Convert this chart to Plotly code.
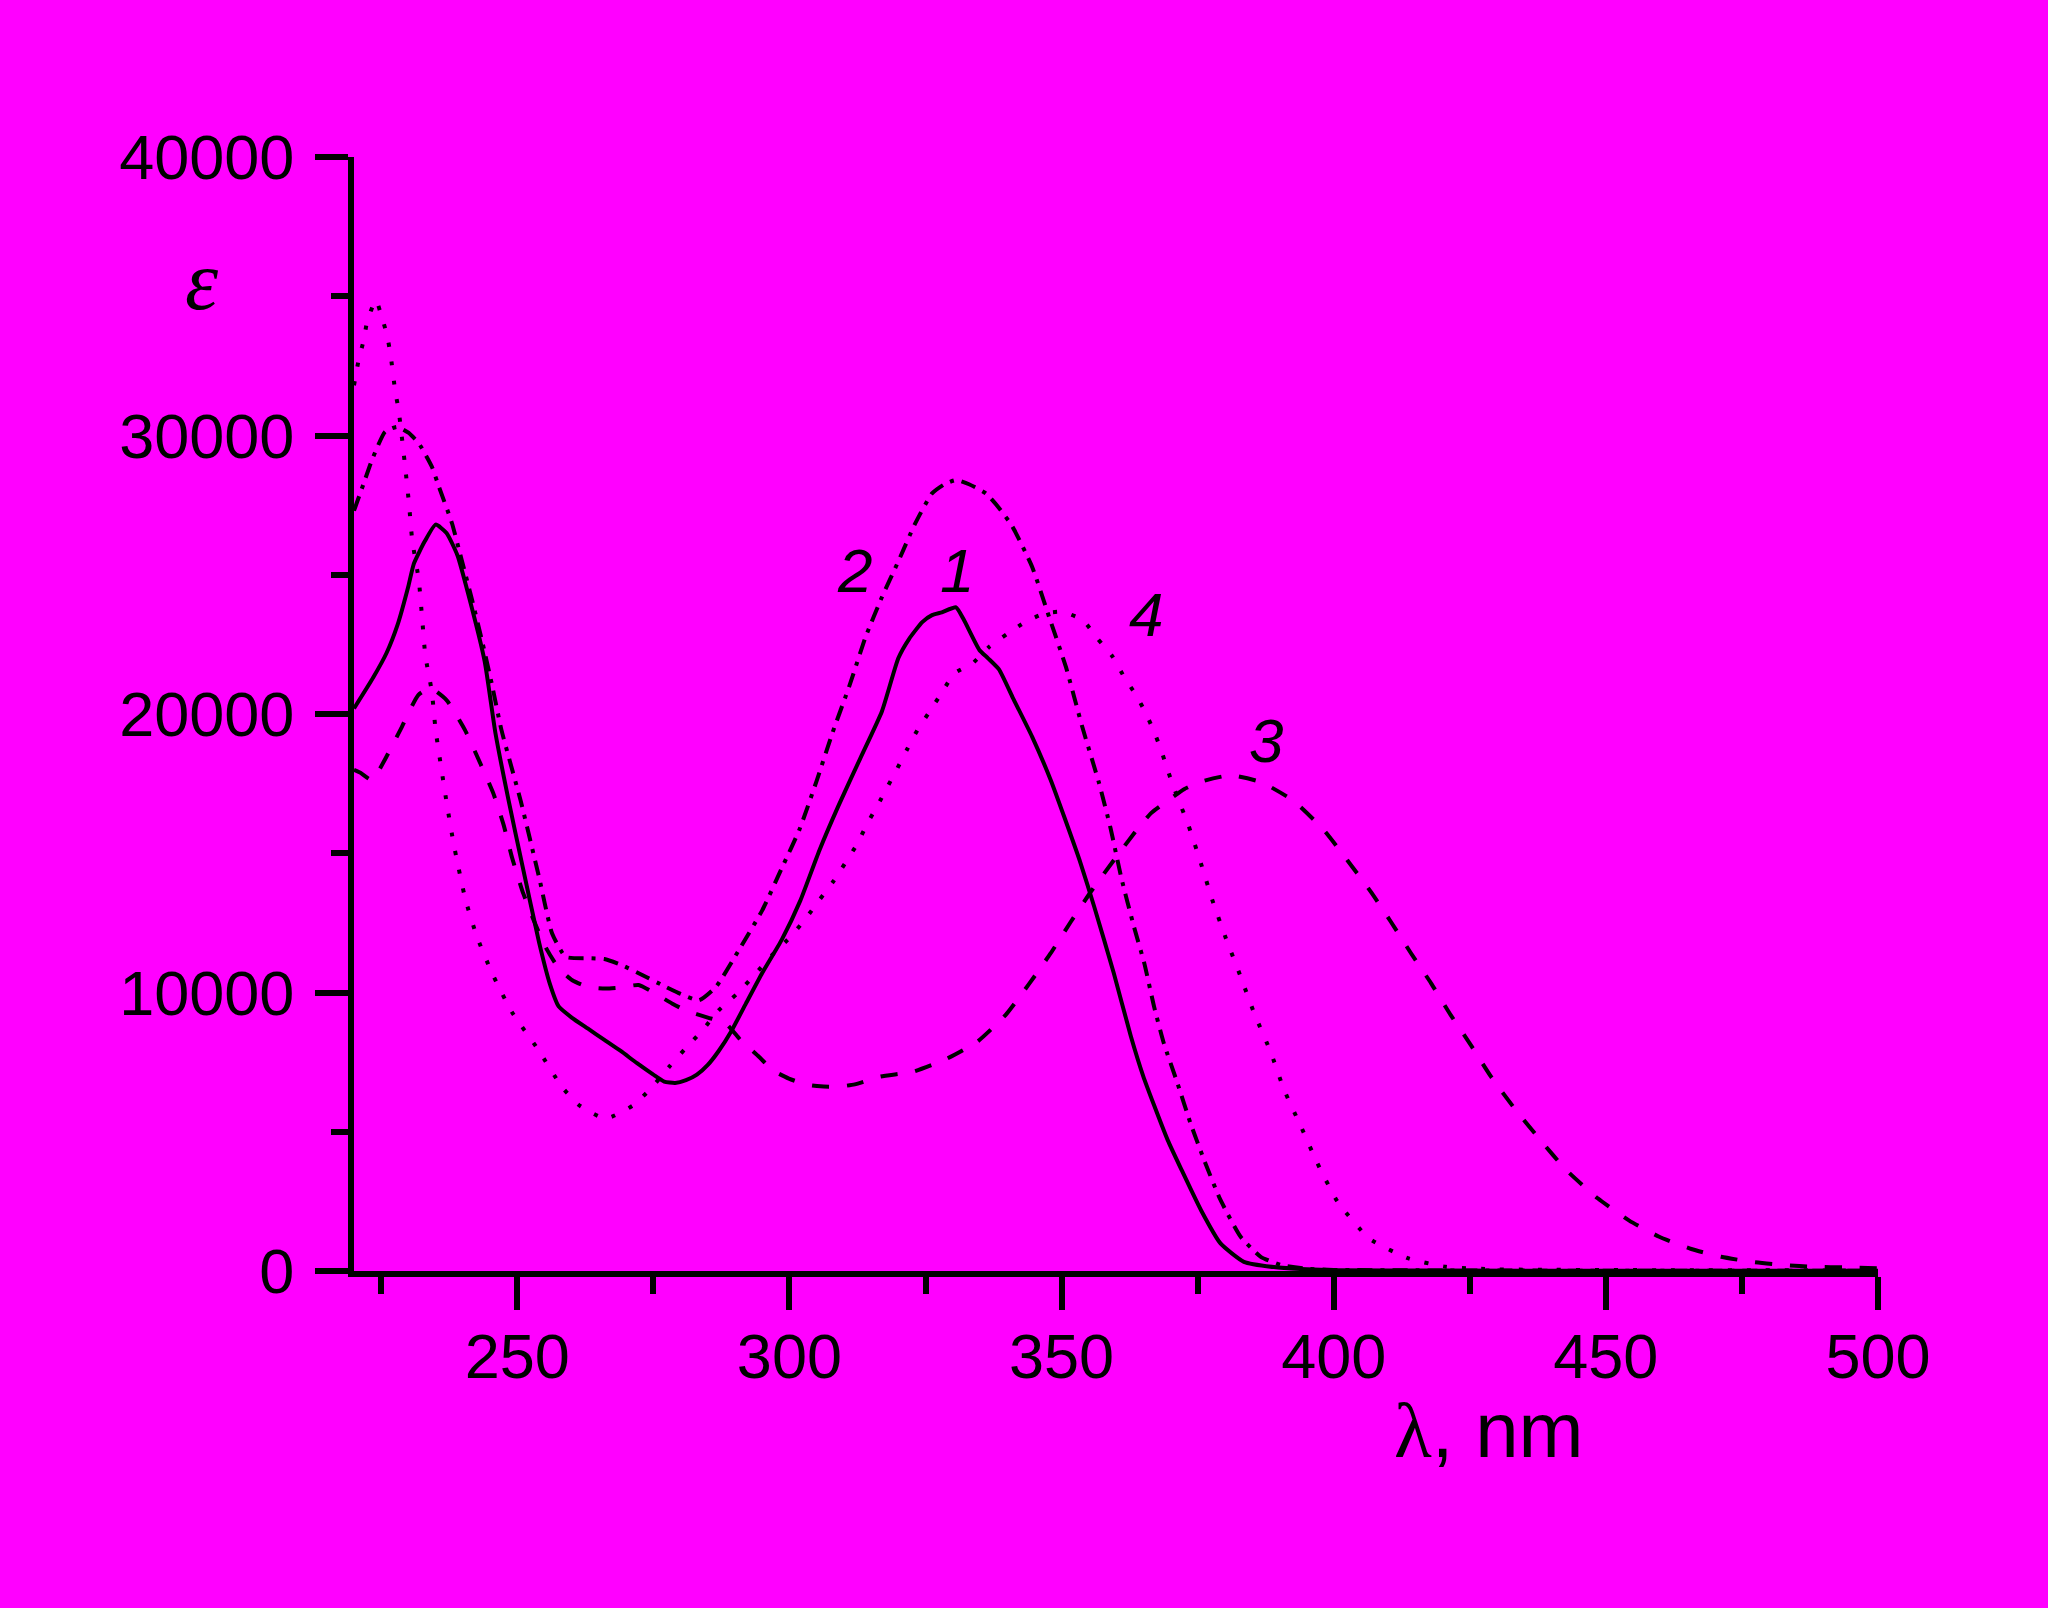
import plotly.graph_objects as go

# Curve 1 (solid)
wl_1 = [220, 223.5, 226, 228, 230, 231, 233, 235, 237, 239, 241, 244, 246, 248.4, 251, 254, 256,
        257.6, 260, 263, 266, 269, 272, 275, 277, 279, 281, 283, 285, 287, 289.4, 292, 295, 298.6,
        302, 305.5, 309, 313, 317, 320, 322, 324.4, 326.2, 328, 330.6, 332, 334.9, 336.5, 338.5, 341,
        344.6, 348, 350.5, 353.5, 356, 359.6, 362.7, 365, 367, 369.5, 372, 375.6, 379.2, 383.5, 389,
        395, 400, 420, 450, 500]
eps_1 = [20200, 21300, 22200, 23200, 24600, 25400, 26200, 26800, 26500, 25700, 24300, 21900, 19300,
         16900, 14500, 11800, 10300, 9500, 9100, 8700, 8300, 7900, 7460, 7050, 6800, 6750, 6850,
         7050, 7400, 7900, 8640, 9600, 10700, 11900, 13300, 15100, 16700, 18400, 20100, 22000, 22700,
         23300, 23550, 23650, 23830, 23400, 22300, 22000, 21600, 20600, 19180, 17630, 16300, 14640,
         13080, 10690, 8450, 7000, 5950, 4700, 3650, 2190, 990, 330, 140, 60, 30, 15, 10, 5]

# Curve 2 (dash-dot)
wl_2 = [220, 221.8, 223.3, 225.7, 227.9, 230, 231.9, 234.3, 235.6, 238, 239.8, 241.7, 243.5, 245.3,
        247.1, 250.6, 254, 256.4, 258.9, 263, 266, 269, 272.3, 277.3, 280, 283.4, 286.5, 290.7, 295,
        298.7, 301.8, 305, 307.9, 311, 314, 317, 320.1, 323, 326.2, 328.5, 330.6, 333, 336.1, 338.5,
        341, 344.6, 347.7, 350.8, 353.8, 356.9, 359, 361, 363.3, 365.2, 367, 368.8, 371.3, 373.7,
        376.2, 379.2, 382.9, 386.6, 390.3, 395, 400, 420, 450, 500]
eps_2 = [27300, 28290, 29120, 30130, 30310, 30100, 29720, 28880, 28160, 26850, 25520, 24090, 22650,
         21100, 19420, 16900, 14140, 12120, 11280, 11230, 11200, 11000, 10690, 10200, 9950, 9720,
         10200, 11520, 12950, 14510, 15830, 17600, 19320, 21000, 22770, 24200, 25520, 26800, 27920,
         28250, 28400, 28250, 27920, 27400, 26720, 25280, 23490, 21690, 19540, 17510, 15900, 14100,
         12360, 11050, 9490, 8170, 6740, 5300, 3980, 2550, 1230, 510, 215, 80, 40, 20, 10, 5]

# Curve 3 (dashed)
wl_3 = [220, 221.1, 223.3, 226.3, 228.8, 231.8, 234, 237, 240.4, 243.2, 245.6, 247.5, 249, 250.9, 253,
        255.2, 257.5, 260.1, 263, 266.2, 269, 272.3, 275, 278.5, 280.9, 285, 288.3, 291, 294.4, 297,
        299.9, 303, 305.7, 309, 312, 316.7, 322.8, 328.7, 334.5, 339.7, 344, 348, 351.7, 355.6, 359.6,
        363.9, 366.5, 369.7, 372.5, 375.6, 381, 386.7, 392.7, 398.2, 402.5, 406.8, 410.5, 414.2,
        417.9, 421.5, 425.2, 428.9, 433.2, 437.8, 442.7, 448.5, 454.3, 459.8, 465.7, 471.2, 477,
        482.7, 488.4, 494.2, 500]
eps_3 = [18000, 17900, 17630, 18590, 19540, 20680, 20930, 20500, 19420, 18230, 17150, 16010, 14870,
         13670, 12600, 11630, 10900, 10440, 10200, 10140, 10180, 10270, 10000, 9600, 9360, 9100, 8890,
         8300, 7690, 7200, 6910, 6700, 6630, 6620, 6700, 6980, 7160, 7600, 8230, 9190, 10300, 11410,
         12540, 13680, 14750, 15860, 16450, 16910, 17300, 17570, 17800, 17550, 16870, 15830, 14750,
         13620, 12540, 11410, 10330, 9190, 8110, 6980, 5840, 4740, 3630, 2610, 1810, 1230, 790, 510,
         320, 215, 150, 130, 100]

# Curve 4 (dotted)
wl_4 = [220, 220.9, 221.8, 222.4, 224, 225.2, 226.1, 226.7, 227.6, 228.2, 229.4, 230.1, 230.7, 231.9,
        232.5, 233.1, 234.3, 235, 237.1, 238.3, 240.5, 242.6, 245.4, 249, 253.7, 258.2, 261.3, 266.2,
        271.4, 274.8, 277.9, 280.9, 284, 287, 290.4, 293.8, 296.8, 300.2, 303, 305.5, 308.2, 312.5,
        314.3, 316.2, 318, 319.8, 321.7, 323.5, 325.7, 328.1, 330.3, 333.6, 336.7, 340.1, 343.4,
        346.8, 350.2, 353.9, 356.6, 359.4, 361.5, 363.7, 365.5, 367, 368.3, 369.5, 370.7, 372, 373.3,
        375.6, 377.7, 380.2, 382.9, 385.4, 388.4, 390.9, 394, 397, 400.7, 406.5, 413.6, 420.6, 430,
        460, 500]
eps_4 = [31800, 32760, 33430, 34080, 34860, 34200, 33570, 32920, 31560, 30910, 28880, 27560, 26240,
         24810, 23490, 22110, 20800, 19420, 16720, 15350, 13320, 12000, 10680, 9300, 7990, 6610, 5960,
         5470, 5960, 6610, 7330, 7990, 8640, 9360, 9960, 10680, 11340, 12000, 12660, 13320, 14030,
         15350, 16070, 16720, 17380, 18040, 18760, 19420, 20070, 20800, 21460, 21810, 22410, 22890,
         23310, 23610, 23670, 23370, 22710, 22050, 21330, 20670, 20020, 19360, 18700, 17980, 17320,
         16660, 16010, 14640, 13320, 11940, 10570, 9250, 7870, 6500, 5180, 3870, 2490, 1170, 460, 150,
         60, 30, 20]

curve_labels = ["1", "2", "3", "4"]
label_wl = [330.7, 312, 387.6, 365.5]
label_eps = [25140, 25140, 19040, 23590]

x_ticks = [250, 300, 350, 400, 450, 500]
y_ticks = [0, 10000, 20000, 30000, 40000]

BG = "#FF00FF"
FONT = "Liberation Sans"

fig = go.Figure()
styles = [("solid", wl_1, eps_1), ("15px,8px,4px,8px", wl_2, eps_2),
          ("17px,18px", wl_3, eps_3), ("4px,15px", wl_4, eps_4)]
for dash, xs, ys in styles:
    fig.add_trace(go.Scatter(x=xs, y=ys, mode="lines",
                             line=dict(color="black", width=4, dash=dash, shape="spline", smoothing=0.5),
                             showlegend=False, hoverinfo="skip"))

for t, lx, ly in zip(curve_labels, label_wl, label_eps):
    fig.add_annotation(x=lx, y=ly, text=f"<i>{t}</i>", showarrow=False,
                       xanchor="center", yanchor="middle",
                       font=dict(family=FONT, size=62, color="black"))

fig.add_annotation(xref="paper", yref="paper", x=-0.0997, y=0.889, text="<i>ε</i>",
                   xanchor="center", yanchor="middle",
                   showarrow=False, font=dict(family="Liberation Serif", size=84, color="black"))
fig.add_annotation(xref="paper", yref="paper", x=0.745, y=-0.143,
                   text="<span style='font-family:Liberation Serif'>λ</span>, nm",
                   xanchor="center", yanchor="middle",
                   showarrow=False, font=dict(family=FONT, size=78, color="black"))

axis_common = dict(showline=True, linecolor="black", linewidth=6, ticks="outside",
                   ticklen=33, tickwidth=6, tickcolor="black", showgrid=False, zeroline=False,
                   tickfont=dict(family=FONT, size=63, color="black"), mirror=False)

fig.update_xaxes(range=[220, 500], tickvals=x_ticks, ticktext=[str(v) for v in x_ticks],
                 minor=dict(ticks="outside", ticklen=17, tickwidth=6, tickcolor="black", dtick=25, tick0=0),
                 ticklabelstandoff=-8, **axis_common)
fig.update_yaxes(range=[0, 40000], tickvals=y_ticks, ticktext=[str(v) for v in y_ticks],
                 minor=dict(ticks="outside", ticklen=17, tickwidth=6, tickcolor="black", dtick=5000, tick0=0),
                 ticklabelstandoff=8, **axis_common)

fig.update_layout(width=2048, height=1608, paper_bgcolor=BG, plot_bgcolor=BG,
                  margin=dict(l=354, r=170, t=157, b=337, autoexpand=False))

fig.write_html("out.html", config={"displayModeBar": False},
               post_script="document.body.style.margin='0';document.body.style.overflow='hidden';")
